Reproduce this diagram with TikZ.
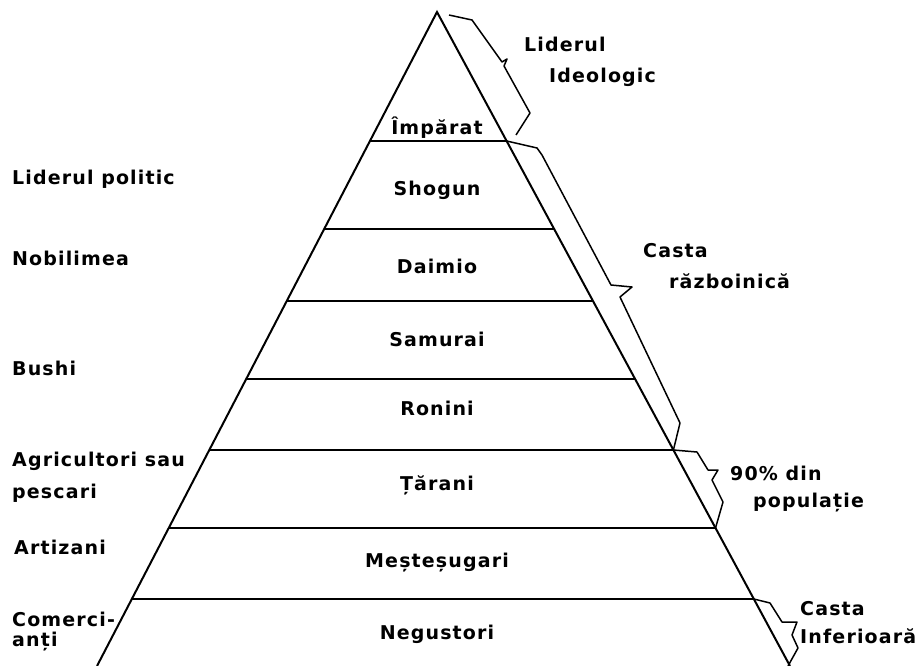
\documentclass[tikz,border=0pt]{standalone}
\usepackage{fontspec}
\usepackage{tikz}
\usetikzlibrary{calc}
\newfontfamily\pyrfont[LetterSpace=6]{DejaVu Sans}

\begin{document}
\begin{tikzpicture}[x=1pt, y=-1pt,
layer_label/.style ={anchor=base, inner sep=0pt, font=\pyrfont\bfseries\fontsize{19}{22}\selectfont},
side_label/.style ={anchor=base west, inner sep=0pt, font=\pyrfont\bfseries\fontsize{19}{22}\selectfont},
edge_line/.style ={draw=black, line width=2pt},
brace_line/.style ={draw=black, line width=1.5pt, line join=round}]
  \useasboundingbox (0,0) rectangle (918,666);
  % pyramid - outline
    \coordinate (apex) at (437,12);
    \coordinate (base_left) at (97,666);
    \coordinate (base_right) at (790,666);
    \draw[edge_line] (base_left) -- (apex) -- (base_right);
  % pyramid - layer borders
    \foreach \yy/\name in {141/imp, 229/sho, 301/dai, 379/sam, 450/ron, 528/tar, 599/mes} {
      \draw[edge_line] ($(apex)!{(\yy-12)/654}!(base_left)$) coordinate (\name_l)
        -- ($(apex)!{(\yy-12)/654}!(base_right)$) coordinate (\name_r);
    }
  % layer names
    \node [layer_label] (imparat)   at (437,135) {Împărat};
    \node [layer_label] (shogun)    at (437,195) {Shogun};
    \node [layer_label] (daimio)    at (437,273) {Daimio};
    \node [layer_label] (samurai)   at (437,346) {Samurai};
    \node [layer_label] (ronini)    at (437,415) {Ronini};
    \node [layer_label] (tarani)    at (437,490) {Țărani};
    \node [layer_label] (mestesug)  at (437,567) {Meșteșugari};
    \node [layer_label] (negustori) at (437,639) {Negustori};
  % left side - roles
    \node [side_label] (lider_pol) at (12,184) {Liderul politic};
    \node [side_label] (nobili)    at (12,265) {Nobilimea};
    \node [side_label] (bushi)     at (12,375) {Bushi};
    \node [side_label] (agric)     at (12,466) {Agricultori sau};
    \node [side_label] (pescari)   at (12,498) {pescari};
    \node [side_label] (artizani)  at (14,554) {Artizani};
    \node [side_label] (comerci)   at (12,626) {Comerci-};
    \node [side_label] (anti)      at (12,646) {anți};
  % right side - castes
    \node [side_label] (lider_ideo) at (524,52)  {Liderul};
    \node [side_label] (ideologic)  at (549,83)  {Ideologic};
    \node [side_label] (casta_r)    at (643,257) {Casta};
    \node [side_label] (razboinica) at (669,288) {războinică};
    \node [side_label] (procent)    at (730,480) {90\% din};
    \node [side_label] (populatie)  at (753,507) {populație};
    \node [side_label] (casta_i)    at (800,615) {Casta};
    \node [side_label] (inferioara) at (800,643) {Inferioară};
  % braces along the right edge
    \draw[brace_line] (449,15) -- (472,20) -- (502,62) -- (507,59) -- (504,66) -- (530,113) -- (516,135);
    \draw[brace_line] (imp_r) -- (537,148) -- (542,155) -- (611,285) -- (632,287) -- (620,297) -- (680,423) -- (ron_r);
    \draw[brace_line] (ron_r) -- (697,452) -- (708,470) -- (718,470) -- (712,480) -- (723,502) -- (tar_r);
    \draw[brace_line] (mes_r) -- (770,603) -- (782,622) -- (797,622) -- (792,635) -- (798,648) -- (788,666);
\end{tikzpicture}
\end{document}
